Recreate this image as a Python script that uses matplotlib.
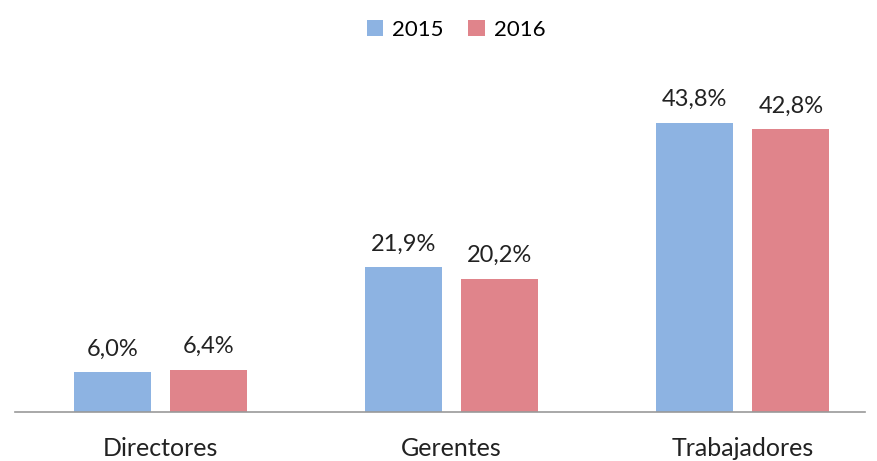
import matplotlib
matplotlib.use("Agg")
import matplotlib.pyplot as plt
import numpy as np

categories = ["Directores", "Gerentes", "Trabajadores"]
series_names = ["2015", "2016"]
values_2015 = [6.0, 21.9, 43.8]
values_2016 = [6.4, 20.2, 42.8]
colors = ["#8DB3E2", "#E0848B"]

plt.rcParams['font.family'] = ['Lato', 'DejaVu Sans']

fig = plt.figure(figsize=(8.77, 4.61), dpi=100)
ax = fig.add_axes([0.0171, 0.1063, 0.969, 0.716])

x = np.arange(len(categories))
w = 0.265
off = 0.166
for vals, name, col, sgn in [(values_2015, series_names[0], colors[0], -1),
                              (values_2016, series_names[1], colors[1], 1)]:
    bars = ax.bar(x + sgn * off, vals, width=w, color=col, label=name, zorder=2)
    for b, v in zip(bars, vals):
        ax.text(b.get_x() + b.get_width() / 2, v + 1.9, f"{v:.1f}".replace(".", ",") + "%",
                ha="center", va="bottom", fontsize=17, color="#222222")

ax.set_xlim(-0.5, 2.42)
ax.set_ylim(0, 50)
ax.set_xticks(x)
ax.set_xticklabels(categories, fontsize=18, color="#222222")
ax.tick_params(axis='x', length=0, pad=18)
ax.set_yticks([])
for s in ["top", "right", "left"]:
    ax.spines[s].set_visible(False)
ax.spines["bottom"].set_color("#999999")
ax.spines["bottom"].set_linewidth(1.2)

leg = fig.legend(loc="upper center", bbox_to_anchor=(0.52, 1.0), ncol=2, frameon=False,
                 fontsize=16, handlelength=0.75, handleheight=0.75, handletextpad=0.4,
                 columnspacing=1.1)

fig.savefig("out.png", dpi=100)
